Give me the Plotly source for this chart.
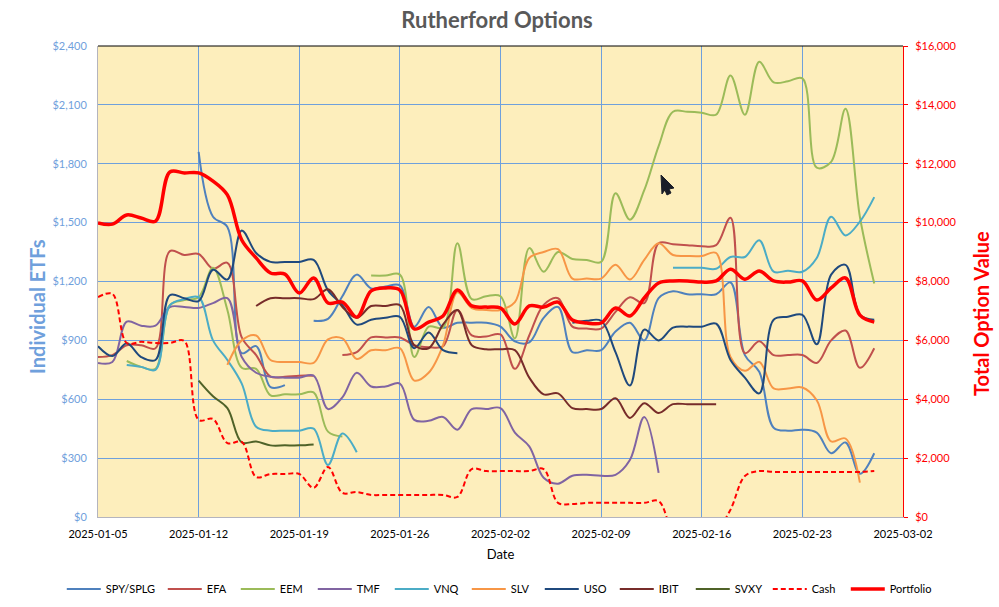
import pandas as pd
import plotly.graph_objects as go

N = None
DATES = pd.date_range("2025-01-05", periods=55).strftime("%Y-%m-%d").tolist()

SPY = [N]*7 + [1860,1530,1478,835,871,662,672] + [N] + [1000,1010,1125,1235,1165,1175,1180,
       970,1070,965,990,990,990,970,895,890,1015,1070,840,850,850,945,990,900,1115,1150,1135,1135,1135,
       1195,825,740,455,440,445,430,325,380,220,325]
EFA = [815,825,875,875,860,1355,1335,1340,1265,1295,915,825,715,715,720,720] + [N] + [825,840,915,915,915,
       875,865,870,1055,925,920,930,755,925,1080,1115,970,960,960,1045,1120,1090,1395,1390,1385,1380,1385,
       1525,835,895,825,825,825,785,900,950,760,860]
EEM = [N]*2 + [795,765,755,1080,1105,1120,1270,1055,760,755,620,625,625,635,435,410] + [N] + [1230,1230,1235,
       815,970,965,1395,1110,1125,1125,910,1370,1250,1350,1315,1310,1300,1650,1515,1665,1890,2065,2065,2060,2050,
       2250,2050,2320,2215,2220,2235,1780,1810,2080,1530,1190]
TMF = [785,790,995,975,975,1070,1070,1065,1090,1115,815,735,715,710,710,720,550,610,735,665,
       665,680,495,490,510,445,550,550,555,430,360,200,170,210,215,210,215,290,510,225] + [N]*15
VNQ = [N]*2 + [775,765,750,1080,1110,1120,900,800,680,460,440,440,440,450,265,425,330] + [N]*21 + [1270,1270,1270,1265,
       1325,1325,1410,1250,1255,1250,1320,1530,1435,1505,1630]
SLV = [N]*9 + [775,900,925,800,790,790,785,905,910,805,850,850,860,
       695,735,875,1145,1065,1055,1055,1095,1320,1350,1365,1215,1215,1215,1285,1210,1310,1395,1335,1330,1330,1345,
       815,745,790,655,655,660,595,385,400,175] + [N]
USO = [870,820,885,815,800,1130,1115,1100,1260,1210,1460,1345,1300,1300,1300,1310,1155,1080,980,1005,1015,1020,
       860,940,850,835] + [N]*7 + [990,1000,1000,840,670,955,900,965,970,970,985,800,710,630,1005,1020,1030,880,1235,1285,1030,1005]
IBIT = [N]*11 + [1075,1115,1115,1115,1110,1160,1070,1015,1075,1075,1080,
        875,860,980,1055,875,855,855,850,710,625,630,555,550,550,605,505,580,530,575,575,575,575] + [N]*11
SVXY = [N]*7 + [695,615,555,380,385,365,365,365,370] + [N]*39
CASH = [7470,7580,5910,5950,5910,5910,5980,3300,3330,2510,
        2550,1360,1460,1460,1460,990,1700,820,850,750,
        750,750,750,750,750,680,1630,1560,1560,1560,
        1560,1630,480,440,480,480,480,480,480,540,
        -500,-800,-800,-500,250,1390,1560,1530,1530,1530,
        1530,1530,1530,1530,1560]
PORTFOLIO = [9990,9950,10260,10160,10050,11720,11690,11690,11410,10940,
             9410,8800,8290,8250,7610,8120,7270,7300,6790,7680,
             7780,7710,6390,6620,6830,7710,7170,7130,7100,6560,
             7170,7130,7300,6690,6590,6590,7100,6830,7440,7950,
             8020,8020,7980,8020,8420,8080,8360,8020,7980,8020,
             7370,7780,8120,6860,6620]

LEFT = [("SPY/SPLG", SPY, "#4F81BD", 52), ("EFA", EFA, "#C0504D", 24), ("EEM", EEM, "#9BBB59", 28),
        ("TMF", TMF, "#8064A2", 28), ("VNQ", VNQ, "#4BACC6", 28), ("SLV", SLV, "#F79646", 24),
        ("USO", USO, "#1F497D", 26), ("IBIT", IBIT, "#772C2A", 27), ("SVXY", SVXY, "#4F6228", 28)]

FONT = "Lato"
BLUE = "#6FA0DC"
fig = go.Figure()
for name, vals, col, lw in LEFT:
    fig.add_trace(go.Scatter(x=DATES, y=vals, name=name, mode="lines", yaxis="y", legendwidth=lw,
                             line=dict(color=col, width=2, shape="spline", smoothing=1)))
fig.add_trace(go.Scatter(x=DATES, y=CASH, name="Cash", mode="lines", yaxis="y2", legendwidth=29,
                         line=dict(color="#FF0000", width=2, dash="5px,3px", shape="spline", smoothing=1)))
fig.add_trace(go.Scatter(x=DATES, y=PORTFOLIO, name="Portfolio", mode="lines", yaxis="y2", legendwidth=44,
                         line=dict(color="#FF0000", width=3.5, shape="spline", smoothing=1)))

# mouse pointer captured in the screenshot
px = [(661,175),(674,188),(669,189),(671,193),(667,195),(665,190),(662,194)]
L, R, T, B = 98, 903, 46, 517
path = "M" + " L".join(f"{(x-L)/(R-L):.4f},{(B-y)/(B-T):.4f}" for x, y in px) + " Z"

fig.update_layout(
    width=999, height=607, autosize=False,
    margin=dict(l=L, r=999-R, t=T, b=607-B, pad=0, autoexpand=False),
    paper_bgcolor="white", plot_bgcolor="#FDEEBC",
    font=dict(family=FONT, size=11, color="#000000"),
    title=dict(text="<b>Rutherford Options</b>", x=0.4975, xanchor="center", y=0.967, yanchor="middle",
               font=dict(family=FONT, size=22, color="#595959")),
    xaxis=dict(type="date", range=["2025-01-05", "2025-03-02"], tick0="2025-01-05", dtick=604800000,
               tickformat="%Y-%m-%d", showgrid=True, gridcolor=BLUE, gridwidth=1, zeroline=False,
               showline=True, linecolor="#B4B4BE", linewidth=1, ticks="", ticklabelstandoff=7,
               tickfont=dict(size=11, family=FONT, color="#000000"),
               title=dict(text="Date", standoff=10, font=dict(size=13, family=FONT, color="#000000"))),
    yaxis=dict(range=[0, 2400], dtick=300, tickformat=",", tickprefix="$", showgrid=True, gridcolor=BLUE,
               gridwidth=1, zeroline=False, showline=True, linecolor="#B4B4BE", linewidth=1, ticks="",
               ticklabelstandoff=8,
               tickfont=dict(size=11, family=FONT, color=BLUE)),
    yaxis2=dict(range=[0, 16000], dtick=2000, tickformat=",", tickprefix="$", overlaying="y", side="right",
                showgrid=False, zeroline=False, showline=True, linecolor="#FF0000", linewidth=1,
                ticks="outside", ticklen=4, tickcolor="#FF0000", ticklabelstandoff=5,
                tickfont=dict(size=11, family=FONT, color="#FF0000")),
    legend=dict(orientation="h", x=-0.045, xanchor="left", y=-0.153, yanchor="middle",
                itemwidth=34, font=dict(size=11, family=FONT, color="#000000"), traceorder="normal"),
    annotations=[
        dict(text="<b>Individual ETFs</b>", xref="paper", yref="paper", x=(37-L)/(R-L), y=(B-307)/(B-T),
             xanchor="center", yanchor="middle", textangle=-90, showarrow=False,
             font=dict(size=20, family=FONT, color=BLUE)),
        dict(text="<b>Total Option Value</b>", xref="paper", yref="paper", x=(981-L)/(R-L), y=(B-313)/(B-T),
             xanchor="center", yanchor="middle", textangle=-90, showarrow=False,
             font=dict(size=20, family=FONT, color="#FF0000")),
    ],
    shapes=[dict(type="line", xref="paper", yref="paper", x0=0, x1=1, y0=1, y1=1, line=dict(color="black", width=1)),
            dict(type="path", xref="paper", yref="paper", path=path, fillcolor="#1A1E28", line=dict(color="#1A1E28", width=1))],
)
assert all(len(v[1]) == 55 for v in LEFT) and len(CASH) == 55 and len(PORTFOLIO) == 55
fig.write_html("out.html", config={"displayModeBar": False},
               post_script="document.body.style.margin='0';")
